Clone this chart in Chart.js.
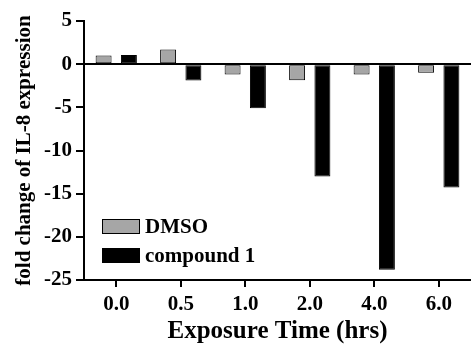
<!DOCTYPE html>
<html>
<head>
<meta charset="utf-8">
<script src="https://cdn.jsdelivr.net/npm/chart.js@4.4.1/dist/chart.umd.min.js"></script>
<style>
  html, body { margin: 0; padding: 0; background: #fff; }
  #wrap { width: 471px; height: 345px; }
</style>
</head>
<body>
<div id="wrap"><canvas id="ilChart"></canvas></div>
<script>
// exposure times and fold change values
const times = ['0.0', '0.5', '1.0', '2.0', '4.0', '6.0'];
const dmso = [1.0, 1.7, -1.2, -1.85, -1.2, -1.0];
const compound1 = [1.05, -1.9, -5.1, -13.0, -23.8, -14.3];
const yTicks = [5, 0, -5, -10, -15, -20, -25];

const serif = 'Liberation Serif';

// legend drawn inside the plot, lower left
const insideLegend = {
    id: 'insideLegend',
    afterDatasetsDraw(chart) {
        const ctx = chart.ctx;
        const area = chart.chartArea;
        ctx.save();
        chart.data.datasets.forEach(function(ds, i) {
            const x = area.left + 18;
            const y = area.bottom - 61 + i * 29;
            ctx.fillStyle = ds.backgroundColor;
            ctx.fillRect(x, y, 38, 15);
            ctx.strokeStyle = '#000';
            ctx.lineWidth = 1;
            ctx.strokeRect(x + 0.5, y + 0.5, 37, 14);
            ctx.fillStyle = '#000';
            ctx.font = 'bold 21px "' + serif + '"';
            ctx.textBaseline = 'middle';
            ctx.fillText(ds.label, x + 43, y + 9);
        });
        ctx.restore();
    }
};

new Chart(document.getElementById('ilChart'), {
    type: 'bar',
    data: {
        labels: times,
        datasets: [{
            label: 'DMSO',
            data: dmso,
            backgroundColor: '#a6a6a6',
            borderColor: '#000',
            borderWidth: 1,
            borderSkipped: false
        },
        {
            label: 'compound 1',
            data: compound1,
            backgroundColor: '#000',
            borderColor: '#000',
            borderWidth: 1,
            borderSkipped: false
        }]
    },
    options: {
        responsive: true,
        maintainAspectRatio: false,
        animation: false,
        categoryPercentage: 0.785,
        barPercentage: 0.63,
        layout: { padding: { top: 21, right: 0, left: 0, bottom: 0 } },
        plugins: {
            legend: { display: false },
            tooltip: { enabled: false }
        },
        scales: {
            x: {
                offset: true,
                afterFit: function(scale) { scale.height = 65; },
                border: { color: '#000', width: 2 },
                grid: {
                    offset: false,
                    drawOnChartArea: false,
                    tickColor: '#000',
                    tickLength: 7,
                    lineWidth: 2
                },
                ticks: {
                    color: '#000',
                    padding: 5,
                    font: { family: serif, size: 21, weight: 'bold' }
                },
                title: {
                    display: true,
                    text: 'Exposure Time (hrs)',
                    color: '#000',
                    padding: { top: 4, bottom: 0 },
                    font: { family: serif, size: 25, weight: 'bold', lineHeight: 1.05 }
                }
            },
            y: {
                min: -25,
                max: 5,
                afterFit: function(scale) { scale.width = 84; },
                afterBuildTicks: function(scale) {
                    scale.ticks = yTicks.map(v => ({ value: v }));
                },
                border: { color: '#000', width: 2 },
                grid: {
                    color: ctx => ctx.tick && ctx.tick.value === 0 ? '#000' : 'rgba(0,0,0,0)',
                    lineWidth: 2,
                    tickColor: '#000',
                    tickLength: 8
                },
                ticks: {
                    color: '#000',
                    padding: 4,
                    font: { family: serif, size: 21, weight: 'bold' }
                },
                title: {
                    display: true,
                    text: 'fold change of IL-8 expression',
                    color: '#000',
                    padding: { top: 12, bottom: 0 },
                    font: { family: serif, size: 21, weight: 'bold' }
                }
            }
        }
    },
    plugins: [insideLegend]
});
</script>
</body>
</html>
